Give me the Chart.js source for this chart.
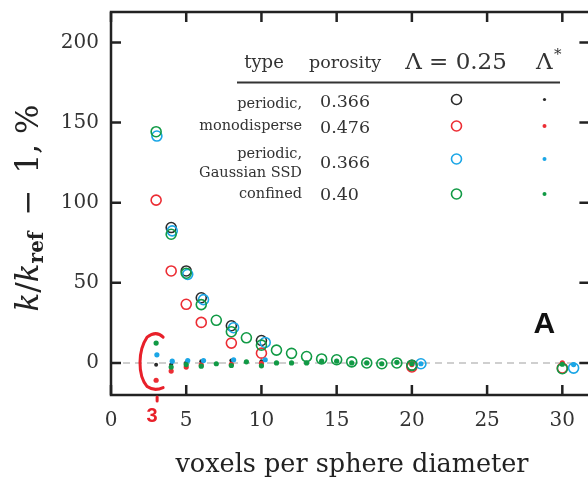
<!DOCTYPE html>
<html>
<head>
<meta charset="utf-8">
<script src="https://cdn.jsdelivr.net/npm/chart.js@4.4.0/dist/chart.umd.min.js"></script>
<style>
  html, body { margin: 0; padding: 0; background: #fff; overflow: hidden; }
  canvas { display: block; }
</style>
</head>
<body>
<canvas id="myChart" width="596" height="479"></canvas>
<script>
const xTicks = [0, 5, 10, 15, 20, 25, 30];
const yTicks = [0, 50, 100, 150, 200];

// periodic, monodisperse, porosity 0.366 (black)
const periodicCircleX = [4, 5, 6, 8, 10, 20];
const periodicCircles = [84.5, 57.4, 40.7, 23.2, 14.0, -1.5];
const periodicDotX = [3, 4, 5, 6, 8, 10, 20];
const periodicDots = [-1.1, -1.0, 0.3, 1.1, 1.5, 1.1, -0.5];

// periodic, monodisperse, porosity 0.476 (red)
const monoX = [3, 4, 5, 6, 8, 10, 20, 30];
const monoCircles = [101.6, 57.4, 36.6, 25.3, 12.4, 6.1, -2.5, -3.2];
const monoDots = [-10.8, -5.1, -2.6, -1.2, -0.8, -0.3, -1.0, 0.0];

// periodic, Gaussian SSD (blue)
const gaussX = [3.05, 4.07, 5.1, 6.15, 8.15, 10.25, 20.6, 30.75];
const gaussCircles = [141.6, 82.4, 55.3, 39.5, 22.0, 12.8, -0.5, -3.2];
const gaussDots = [5.1, 1.1, 1.5, 1.5, 2.0, 2.0, -0.5, -1.0];

// confined (green)
const confinedX = [3, 4, 5, 6, 7, 8, 9, 10, 11, 12, 13, 14, 15, 16, 17, 18, 19, 20, 30];
const confinedCircles = [144.3, 80.3, 56.0, 36.4, 26.6, 19.5, 15.7, 11.1, 8.0, 6.0, 4.0, 2.5, 2.0, 0.7, 0.0, -0.5, 0.0, -1.5, -3.6];
const confinedDots = [12.4, -2.6, -1.0, -2.0, -0.5, -1.6, 0.7, -1.8, 0.0, 0.0, 0.0, 1.1, 1.1, 0.0, 0.0, -0.5, 0.4, -0.5, -0.8];

const colors = { black: '#2b2b2b', red: '#ec2d34', blue: '#1ba6e6', green: '#119a45' };
const serif = '"DejaVu Serif", serif';

const makeSet = (xs, ys, color, hollow, r) => ({
  data: xs.map((v, i) => ({ x: v, y: ys[i] })),
  pointStyle: 'circle',
  pointRadius: r,
  pointHoverRadius: r,
  pointBorderWidth: hollow ? 1.6 : 0,
  pointBorderColor: color,
  pointBackgroundColor: hollow ? 'rgba(0,0,0,0)' : color,
  showLine: false
});

const decorPlugin = {
  id: 'decor',
  beforeDatasetsDraw(chart) {
    const { ctx, chartArea: area, scales: { y } } = chart;
    const y0 = y.getPixelForValue(0);
    ctx.save();
    ctx.strokeStyle = '#cfcfcf';
    ctx.lineWidth = 2;
    ctx.setLineDash([7, 5]);
    ctx.beginPath();
    ctx.moveTo(area.left, y0);
    ctx.lineTo(area.right, y0);
    ctx.stroke();
    ctx.restore();
  },
  afterDatasetsDraw(chart) {
    const { ctx, chartArea: area, scales: { x, y } } = chart;
    ctx.save();

    // frame with inward ticks
    ctx.strokeStyle = '#222';
    ctx.lineWidth = 2.5;
    ctx.strokeRect(area.left, area.top, area.right - area.left, area.bottom - area.top);
    ctx.beginPath();
    xTicks.forEach(v => {
      const px = x.getPixelForValue(v);
      ctx.moveTo(px, area.bottom); ctx.lineTo(px, area.bottom - 10);
      ctx.moveTo(px, area.top); ctx.lineTo(px, area.top + 10);
    });
    yTicks.forEach(v => {
      const py = y.getPixelForValue(v);
      ctx.moveTo(area.left, py); ctx.lineTo(area.left + 10, py);
      ctx.moveTo(area.right, py); ctx.lineTo(area.right - 10, py);
    });
    ctx.stroke();

    // axis titles
    ctx.fillStyle = '#222';
    ctx.font = `25.5px ${serif}`;
    ctx.textAlign = 'center';
    ctx.textBaseline = 'alphabetic';
    ctx.fillText('voxels per sphere diameter', 352, 472);

    ctx.save();
    ctx.translate(38, 208);
    ctx.rotate(-Math.PI / 2);
    const parts = [
      { t: 'k', f: `italic 31px ${serif}`, dy: 0 },
      { t: '/', f: `31px ${serif}`, dy: 0 },
      { t: 'k', f: `italic 31px ${serif}`, dy: 0 },
      { t: 'ref', f: `bold 20px ${serif}`, dy: 5 },
      { t: '\u2009 − \u2009', f: `31px ${serif}`, dy: 0 },
      { t: '1, %', f: `31px ${serif}`, dy: 0 }
    ];
    let total = 0;
    parts.forEach(p => { ctx.font = p.f; p.w = ctx.measureText(p.t).width; total += p.w; });
    let cx = -total / 2;
    ctx.textAlign = 'left';
    parts.forEach(p => { ctx.font = p.f; ctx.fillText(p.t, cx, p.dy); cx += p.w; });
    ctx.restore();

    // legend table
    ctx.fillStyle = '#333';
    ctx.textAlign = 'center';
    ctx.font = `18px ${serif}`;
    ctx.fillText('type', 264, 68);
    ctx.font = `17.5px ${serif}`;
    ctx.fillText('porosity', 345, 68);
    ctx.font = `23px ${serif}`;
    ctx.fillText('Λ = 0.25', 456, 69);
    ctx.textAlign = 'left';
    ctx.fillText('Λ', 536, 69);
    ctx.font = `15px ${serif}`;
    ctx.fillText('*', 554, 59);
    ctx.strokeStyle = '#333';
    ctx.lineWidth = 2;
    ctx.beginPath();
    ctx.moveTo(237, 82.5);
    ctx.lineTo(560, 82.5);
    ctx.stroke();

    ctx.textAlign = 'right';
    ctx.font = `14.5px ${serif}`;
    ctx.fillText('periodic,', 302, 108);
    ctx.fillText('monodisperse', 302, 130);
    ctx.fillText('periodic,', 302, 158);
    ctx.fillText('Gaussian SSD', 302, 177);
    ctx.fillText('confined', 302, 198);
    ctx.textAlign = 'left';
    ctx.font = `17.5px ${serif}`;
    ctx.fillText('0.366', 320, 107);
    ctx.fillText('0.476', 320, 133);
    ctx.fillText('0.366', 320, 168);
    ctx.fillText('0.40', 320, 200);

    const rows = [
      { c: colors.black, y: 99.5, r: 1.6 },
      { c: colors.red, y: 126, r: 2 },
      { c: colors.blue, y: 159, r: 2 },
      { c: colors.green, y: 194, r: 2 }
    ];
    rows.forEach(row => {
      ctx.strokeStyle = row.c;
      ctx.lineWidth = 1.6;
      ctx.beginPath();
      ctx.arc(456.5, row.y, 5, 0, Math.PI * 2);
      ctx.stroke();
      ctx.fillStyle = row.c;
      ctx.beginPath();
      ctx.arc(544.5, row.y, row.r, 0, Math.PI * 2);
      ctx.fill();
    });

    // panel letter
    ctx.fillStyle = '#111';
    ctx.font = 'bold 30px "Liberation Sans", Arial, sans-serif';
    ctx.textAlign = 'center';
    ctx.textBaseline = 'middle';
    ctx.fillText('A', x.getPixelForValue(28.8), y.getPixelForValue(24));

    // red hand annotation around x = 3
    const ax = x.getPixelForValue(3);
    const top = y.getPixelForValue(18);
    const bot = y.getPixelForValue(-16);
    ctx.strokeStyle = '#e8202a';
    ctx.lineWidth = 3;
    ctx.lineCap = 'round';
    ctx.beginPath();
    ctx.moveTo(ax + 7, top + 3);
    ctx.quadraticCurveTo(ax, top - 4, ax - 9, top + 3);
    ctx.bezierCurveTo(ax - 18, top + 16, ax - 19, bot - 14, ax - 9, bot - 2);
    ctx.quadraticCurveTo(ax - 2, bot + 3, ax + 7, bot - 1);
    ctx.stroke();
    ctx.beginPath();
    ctx.moveTo(ax + 1, area.bottom + 2);
    ctx.lineTo(ax + 1, area.bottom + 6);
    ctx.stroke();
    ctx.fillStyle = '#e8202a';
    ctx.font = 'bold 20px "Liberation Sans", Arial, sans-serif';
    ctx.textBaseline = 'middle';
    ctx.fillText('3', ax - 4, area.bottom + 21);

    ctx.restore();
  }
};

const ctx = document.getElementById('myChart').getContext('2d');

const chartConfig = {
  type: 'scatter',
  data: {
    datasets: [
      makeSet(confinedX, confinedDots, colors.green, false, 2.6),
      makeSet(gaussX, gaussDots, colors.blue, false, 2.6),
      makeSet(monoX, monoDots, colors.red, false, 2.6),
      makeSet(periodicDotX, periodicDots, colors.black, false, 2),
      makeSet(confinedX, confinedCircles, colors.green, true, 5),
      makeSet(gaussX, gaussCircles, colors.blue, true, 5),
      makeSet(monoX, monoCircles, colors.red, true, 5),
      makeSet(periodicCircleX, periodicCircles, colors.black, true, 5)
    ]
  },
  options: {
    responsive: false,
    animation: false,
    layout: { padding: { top: 12, right: 6, left: 0, bottom: 0 } },
    plugins: {
      legend: { display: false },
      tooltip: { enabled: false }
    },
    scales: {
      x: {
        type: 'linear',
        min: 0,
        max: 31.8,
        grid: { display: false, drawTicks: false },
        border: { display: false },
        afterBuildTicks: scale => { scale.ticks = xTicks.map(v => ({ value: v })); },
        afterFit: scale => {
          scale.height = 84;
          scale.paddingLeft = 0;
          scale.paddingRight = 0;
        },
        ticks: {
          autoSkip: false,
          maxRotation: 0,
          padding: 14,
          color: '#333',
          font: { family: 'DejaVu Serif', size: 20 }
        }
      },
      y: {
        type: 'linear',
        min: -20,
        max: 219,
        grid: { display: false, drawTicks: false },
        border: { display: false },
        afterBuildTicks: scale => { scale.ticks = yTicks.map(v => ({ value: v })); },
        afterFit: scale => {
          scale.width = 111;
          scale.paddingTop = 0;
          scale.paddingBottom = 0;
        },
        ticks: {
          padding: 12,
          color: '#333',
          font: { family: 'DejaVu Serif', size: 20 }
        }
      }
    }
  },
  plugins: [decorPlugin]
};

const myChart = new Chart(ctx, chartConfig);
</script>
</body>
</html>
